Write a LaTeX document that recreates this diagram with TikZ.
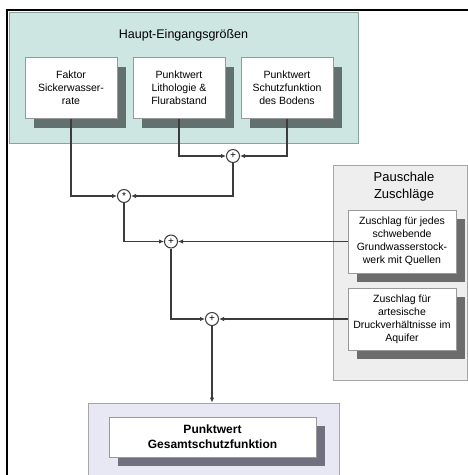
\documentclass[tikz,border=0pt]{standalone}
\usepackage{fontspec}
\setmainfont{Liberation Sans}
\usetikzlibrary{arrows.meta,shadows}

\definecolor{tuerkis}{RGB}{206,230,226}
\definecolor{tuerkisrand}{RGB}{140,160,156}
\definecolor{schattentk}{RGB}{98,112,110}
\definecolor{hellgrau}{RGB}{238,238,238}
\definecolor{lila}{RGB}{232,232,244}
\definecolor{schattenli}{RGB}{112,112,128}
\definecolor{linie}{RGB}{60,60,60}

\begin{document}
\begin{tikzpicture}[x=1pt,y=-1pt,
    feld/.style={draw=#1, line width=0.8pt, inner sep=0pt},
    kasten/.style={draw=gray!80, fill=white, line width=0.6pt, align=center, inner sep=1pt,
        font=\fontsize{10.5}{13}\selectfont,
        drop shadow={shadow xshift=9pt, shadow yshift=-9pt, opacity=1, fill=#1}},
    summe/.style={circle, draw=linie, fill=white, line width=1pt, minimum size=13pt, inner sep=0pt,
        font=\fontsize{10}{10}\selectfont},
    pfeil/.style={draw=linie, line width=1.1pt, -{Latex[length=5pt,width=4.5pt]}}]

  \clip (0,0) rectangle (468,475);

  % Hintergrundfelder
  \node[feld=tuerkisrand, fill=tuerkis, minimum width=349pt, minimum height=131pt] (haupt) at (183.5,77.5) {};
  \node[feld=gray!70, fill=hellgrau, minimum width=134pt, minimum height=215pt] (pausch) at (400,272.5) {};
  \node[feld=gray!70, fill=lila, minimum width=251pt, minimum height=90pt] (gesamtfeld) at (213.5,448) {};

  % Rahmen
  \draw[line width=2.5pt] (7,480) -- (7,10) -- (470,10);

  % Titel
  \node[font=\fontsize{12.5}{15}\selectfont] (hauptTitel) at (183.5,35) {Haupt-Eingangsgrößen};
  \node[font=\fontsize{13}{17}\selectfont, align=center] (pauschTitel) at (404,187) {Pauschale\\Zuschläge};

  % Eingangsgroessen
  \node[kasten=schattentk, minimum width=92pt, minimum height=61pt] (faktor) at (71,88) {Faktor\\Sickerwasser-\\rate};
  \node[kasten=schattentk, minimum width=92pt, minimum height=61pt] (litho) at (179,88) {Punktwert\\Lithologie \&\\Flurabstand};
  \node[kasten=schattentk, minimum width=92pt, minimum height=61pt] (schutz) at (287,88) {Punktwert\\Schutzfunktion\\des Bodens};

  % Zuschlaege
  \node[kasten=gray!85!black, minimum width=108pt, minimum height=63pt] (zu1) at (402,241.5) {Zuschlag für jedes\\schwebende\\Grundwasserstock-\\werk mit Quellen};
  \node[kasten=gray!85!black, minimum width=108pt, minimum height=62pt] (zu2) at (402,319) {Zuschlag für\\artesische\\Druckverhältnisse im\\Aquifer};

  % Ergebnis
  \node[kasten=schattenli, minimum width=207pt, minimum height=40pt,
        font=\fontsize{12}{15}\selectfont\bfseries] (gesamt) at (212.5,437) {Punktwert\\Gesamtschutzfunktion};

  % Verknuepfungen
  \node[summe] (c1) at (233,156) {+};
  \node[summe] (cs) at (124,196) {*};
  \node[summe] (c2) at (171,241.5) {+};
  \node[summe] (c3) at (212,319) {+};

  \draw[pfeil] (litho.south) |- (c1);
  \draw[pfeil] (schutz.south) |- (c1);
  \draw[pfeil] (faktor.south) |- (cs);
  \draw[pfeil] (c1) |- (cs);
  \draw[pfeil] (cs) |- (c2);
  \draw[pfeil] (zu1.west) -- (c2);
  \draw[pfeil] (c2) |- (c3);
  \draw[pfeil] (zu2.west) -- (c3);
  \draw[pfeil] (c3) -- (c3 |- gesamtfeld.north);
\end{tikzpicture}
\end{document}
